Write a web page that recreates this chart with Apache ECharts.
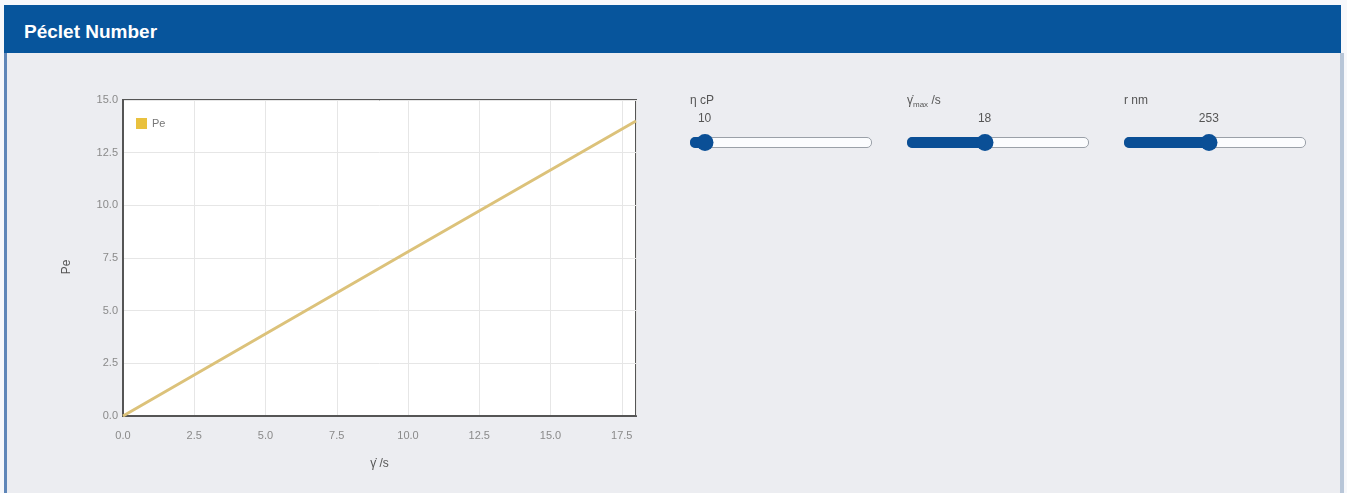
<!DOCTYPE html>
<html>
<head>
<meta charset="utf-8">
<script src="https://cdn.jsdelivr.net/npm/echarts@6/dist/echarts.min.js"></script>
<style>
  html, body { margin:0; padding:0; width:1347px; height:493px; background:#f7f8fb; overflow:hidden; font-family:"Liberation Sans", Arial, sans-serif; }
  #header { position:absolute; left:4px; top:5px; width:1337px; height:48px; background:#07559c; }
  #title { position:absolute; left:20px; top:16px; color:#fff; font-weight:bold; font-size:19px; }
  #panel { position:absolute; left:4px; top:53px; width:1333px; height:440px; background:#ecedf1; border-left:3px solid #5f86b8; border-right:4px solid #b8c6d8; }
  #chart { position:absolute; left:0; top:0; width:1347px; height:493px; }
  .slider { position:absolute; width:185px; height:60px; color:#555; font-size:12px; }
  .slider .lab { position:absolute; left:0; top:0; }
  .slider .val { position:absolute; top:18px; transform:translateX(-50%); }
  .slider .track { position:absolute; left:0; top:44px; width:180px; height:9px; background:#fbfcfe; border:1px solid #9aa0a8; border-radius:5px; }
  .slider .fill { position:absolute; left:0; top:44px; height:11px; background:#0a4f96; border-radius:5px; }
  .slider .knob { position:absolute; top:41px; width:17px; height:17px; background:#0a4f96; border-radius:50%; transform:translateX(-50%); }
</style>
</head>
<body>
<div id="header"><div id="title">Péclet Number</div></div>
<div id="panel"></div>
<div id="chart"></div>
<div id="sliders"></div>
<script>
// Data
var gammaDot = [0, 10, 18];
var peValues = [0, 7.8, 14.0];
var xTicks = [0, 2.5, 5, 7.5, 10, 12.5, 15, 17.5];
var yTicks = [0, 2.5, 5, 7.5, 10, 12.5, 15];
var sliderLabels = ['η cP', 'γ̇<sub style="font-size:8px">max</sub> /s', 'r nm'];
var sliderValues = [10, 18, 253];
var sliderFractions = [0.07, 0.42, 0.46];

var sliderLeft = [690, 907, 1124];
var html = '';
for (var i = 0; i < sliderLabels.length; i++) {
  var f = sliderFractions[i];
  var px = 180 * f;
  html += '<div class="slider" style="left:' + sliderLeft[i] + 'px;top:93px">' +
    '<div class="lab">' + sliderLabels[i] + '</div>' +
    '<div class="val" style="left:' + (px + 2) + 'px">' + sliderValues[i] + '</div>' +
    '<div class="track"></div>' +
    '<div class="fill" style="width:' + (px + 6) + 'px"></div>' +
    '<div class="knob" style="left:' + (px + 2) + 'px"></div>' +
    '</div>';
}
document.getElementById('sliders').innerHTML = html;

var chart = echarts.init(document.getElementById('chart'), null, {renderer:'canvas'});
var axisLabelStyle = { color:'#8a8a8a', fontSize:11, fontFamily:'Liberation Sans' };
chart.setOption({
  animation:false,
  backgroundColor:'transparent',
  grid: { left:123, top:100, width:513, height:316, show:true, backgroundColor:'#ffffff', borderColor:'#555', borderWidth:2 },
  legend: {
    left:131, top:113, itemWidth:11, itemHeight:11, icon:'rect',
    textStyle:{ color:'#777', fontSize:11 },
    data:[{ name:'Pe', itemStyle:{ color:'#e9c13e' } }]
  },
  xAxis: {
    type:'value', min:0, max:18, interval:2.5,
    name:'γ̇ /s', nameLocation:'middle', nameGap:42,
    nameTextStyle:{ color:'#555', fontSize:12 },
    axisLine:{ show:true, lineStyle:{ color:'#555', width:2 } },
    axisTick:{ show:false },
    axisLabel:{ ...axisLabelStyle, margin:14, showMaxLabel:false, formatter:function(v){ return v.toFixed(1); } },
    splitLine:{ show:true, lineStyle:{ color:'#e6e6e6' } }
  },
  yAxis: {
    type:'value', min:0, max:15, interval:2.5,
    name:'Pe', nameLocation:'middle', nameGap:50,
    nameTextStyle:{ color:'#555', fontSize:12, padding:[0,0,0,-18] },
    axisLine:{ show:true, lineStyle:{ color:'#555', width:2 } },
    axisTick:{ show:false },
    axisLabel:{ ...axisLabelStyle, margin:5, formatter:function(v){ return v.toFixed(1); } },
    splitLine:{ show:true, lineStyle:{ color:'#e6e6e6' } }
  },
  series: [{
    name:'Pe', type:'line', showSymbol:false,
    data: gammaDot.map(function(x, i){ return [x, peValues[i]]; }),
    lineStyle:{ color:'#dcc27a', width:3 },
    itemStyle:{ color:'#e9c13e' }
  }]
});
</script>
</body>
</html>
